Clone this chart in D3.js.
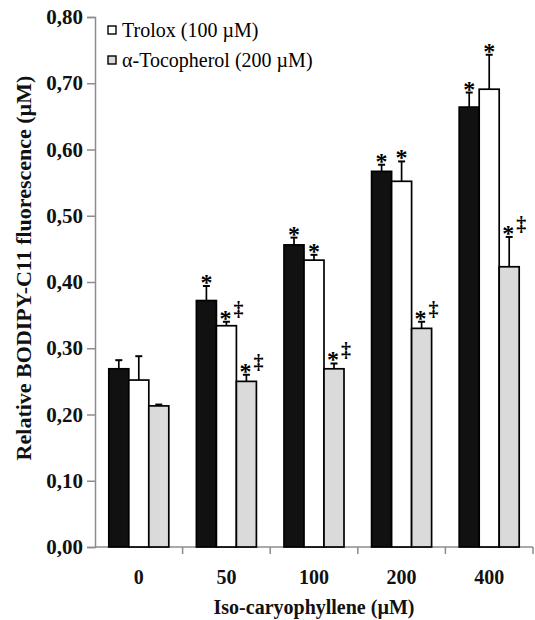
<!DOCTYPE html>
<html>
<head>
<meta charset="utf-8">
<script src="https://cdn.jsdelivr.net/npm/d3@7"></script>
<style>
  body { margin: 0; background: #fff; }
  svg text { font-family: "Liberation Serif", "Times New Roman", serif; }
</style>
</head>
<body>
<svg id="chart"></svg>
<script>
const categories = ["0", "50", "100", "200", "400"];
const seriesNames = ["Iso-caryophyllene", "Trolox (100 µM)", "α-Tocopherol (200 µM)"];
const blackValues = [0.269, 0.372, 0.456, 0.567, 0.664];
const blackErrors = [0.013, 0.022, 0.011, 0.010, 0.022];
const whiteValues = [0.252, 0.334, 0.433, 0.552, 0.691];
const whiteErrors = [0.036, 0.006, 0.008, 0.030, 0.052];
const grayValues = [0.213, 0.250, 0.269, 0.330, 0.423];
const grayErrors = [0.002, 0.010, 0.008, 0.010, 0.045];
// significance marks per bar
const blackMarks = ["", "*", "*", "*", "*"];
const whiteMarks = ["", "*‡", "*", "*", "*"];
const grayMarks = ["", "*‡", "*‡", "*‡", "*‡"];
const yTicks = [0, 0.1, 0.2, 0.3, 0.4, 0.5, 0.6, 0.7, 0.8];

const W = 535, H = 620;
const plotLeft = 95, plotRight = 533, plotTop = 17, plotBottom = 547;

const svg = d3.select("#chart").attr("width", W).attr("height", H);

const x0 = d3.scaleBand().domain(categories).range([plotLeft, plotRight]).padding(0);
const groupW = 60;
const x1 = d3.scaleBand().domain(seriesNames)
    .range([(x0.bandwidth() - groupW) / 2, (x0.bandwidth() + groupW) / 2]);
const y = d3.scaleLinear().domain([0, 0.8]).range([plotBottom, plotTop]);

const fills = ["#111111", "#ffffff", "#dadada"];

const data = categories.map((c, i) => ({
    cat: c,
    bars: [
        { s: seriesNames[0], v: blackValues[i], e: blackErrors[i], m: blackMarks[i] },
        { s: seriesNames[1], v: whiteValues[i], e: whiteErrors[i], m: whiteMarks[i] },
        { s: seriesNames[2], v: grayValues[i], e: grayErrors[i], m: grayMarks[i] }
    ]
}));

// y axis
const yAxis = d3.axisLeft(y).tickValues(yTicks).tickSize(8)
    .tickFormat(d => d3.format(".2f")(d).replace(".", ","));
const gy = svg.append("g").attr("transform", `translate(${plotLeft},0)`).call(yAxis);
gy.select(".domain").attr("stroke", "#8c8c8c").attr("stroke-width", 1.5);
gy.selectAll(".tick line").attr("stroke", "#8c8c8c").attr("stroke-width", 1.5);
gy.selectAll(".tick text")
    .attr("x", -12)
    .style("font-size", "21px").style("font-weight", "bold").attr("fill", "#111");

// x axis
const gx = svg.append("g").attr("transform", `translate(0,${plotBottom})`);
gx.append("line").attr("x1", plotLeft).attr("x2", plotRight).attr("stroke", "#8c8c8c").attr("stroke-width", 1.5);
gx.selectAll(".sep").data(categories).enter().append("line")
    .attr("x1", d => x0(d) + x0.bandwidth())
    .attr("x2", d => x0(d) + x0.bandwidth())
    .attr("y1", 0).attr("y2", 7)
    .attr("stroke", "#8c8c8c").attr("stroke-width", 1.5);
gx.selectAll(".lab").data(categories).enter().append("text")
    .attr("x", d => x0(d) + x0.bandwidth() / 2)
    .attr("y", 37)
    .attr("text-anchor", "middle")
    .style("font-size", "20px").style("font-weight", "bold").attr("fill", "#111")
    .text(d => d);

// bars
const groups = svg.selectAll(".grp").data(data).enter().append("g")
    .attr("transform", d => `translate(${x0(d.cat)},0)`);

groups.selectAll("rect").data(d => d.bars).enter().append("rect")
    .attr("x", d => x1(d.s))
    .attr("y", d => y(d.v))
    .attr("width", x1.bandwidth())
    .attr("height", d => y(0) - y(d.v))
    .attr("fill", (d, i) => fills[i])
    .attr("stroke", "#000").attr("stroke-width", 1.7);

// error bars
const err = groups.selectAll(".err").data(d => d.bars).enter().append("g");
err.append("line")
    .attr("x1", d => x1(d.s) + x1.bandwidth() / 2)
    .attr("x2", d => x1(d.s) + x1.bandwidth() / 2)
    .attr("y1", d => y(d.v))
    .attr("y2", d => y(d.v + d.e))
    .attr("stroke", "#000").attr("stroke-width", 1.7);
err.append("line")
    .attr("x1", d => x1(d.s) + x1.bandwidth() / 2 - 3.5)
    .attr("x2", d => x1(d.s) + x1.bandwidth() / 2 + 3.5)
    .attr("y1", d => y(d.v + d.e))
    .attr("y2", d => y(d.v + d.e))
    .attr("stroke", "#000").attr("stroke-width", 2);

// significance marks
err.filter(d => d.m.includes("*")).append("text")
    .attr("x", d => x1(d.s) + x1.bandwidth() / 2 - (d.m.includes("‡") ? 1 : 0))
    .attr("y", d => y(d.v + d.e) + 4)
    .attr("text-anchor", "middle")
    .style("font-size", "24px").style("font-weight", "bold").attr("fill", "#000")
    .text("*");
err.filter(d => d.m.includes("‡")).append("text")
    .attr("x", d => x1(d.s) + x1.bandwidth() / 2 + 12)
    .attr("y", d => y(d.v + d.e) - 6)
    .attr("text-anchor", "middle")
    .style("font-size", "20px").style("font-weight", "bold").attr("fill", "#000")
    .text("‡");

// legend
const legend = svg.append("g").attr("transform", "translate(108,0)");
const legendItems = [
    { name: seriesNames[1], fill: fills[1], yy: 30 },
    { name: seriesNames[2], fill: fills[2], yy: 60 }
];
legendItems.forEach(it => {
    legend.append("rect").attr("x", 0).attr("y", it.yy - 4).attr("width", 8).attr("height", 8)
        .attr("fill", it.fill).attr("stroke", "#000").attr("stroke-width", 1.4);
    legend.append("text").attr("x", 14).attr("y", it.yy + 7)
        .style("font-size", "20px").attr("fill", "#000").text(it.name);
});

// axis titles
svg.append("text")
    .attr("transform", `translate(31,268) rotate(-90)`)
    .attr("text-anchor", "middle")
    .style("font-size", "22px").style("font-weight", "bold").attr("fill", "#111")
    .text("Relative BODIPY-C11 fluorescence (µM)");
svg.append("text")
    .attr("x", (plotLeft + plotRight) / 2)
    .attr("y", 614)
    .attr("text-anchor", "middle")
    .style("font-size", "20px").style("font-weight", "bold").attr("fill", "#111")
    .text("Iso-caryophyllene (µM)");
</script>
</body>
</html>
